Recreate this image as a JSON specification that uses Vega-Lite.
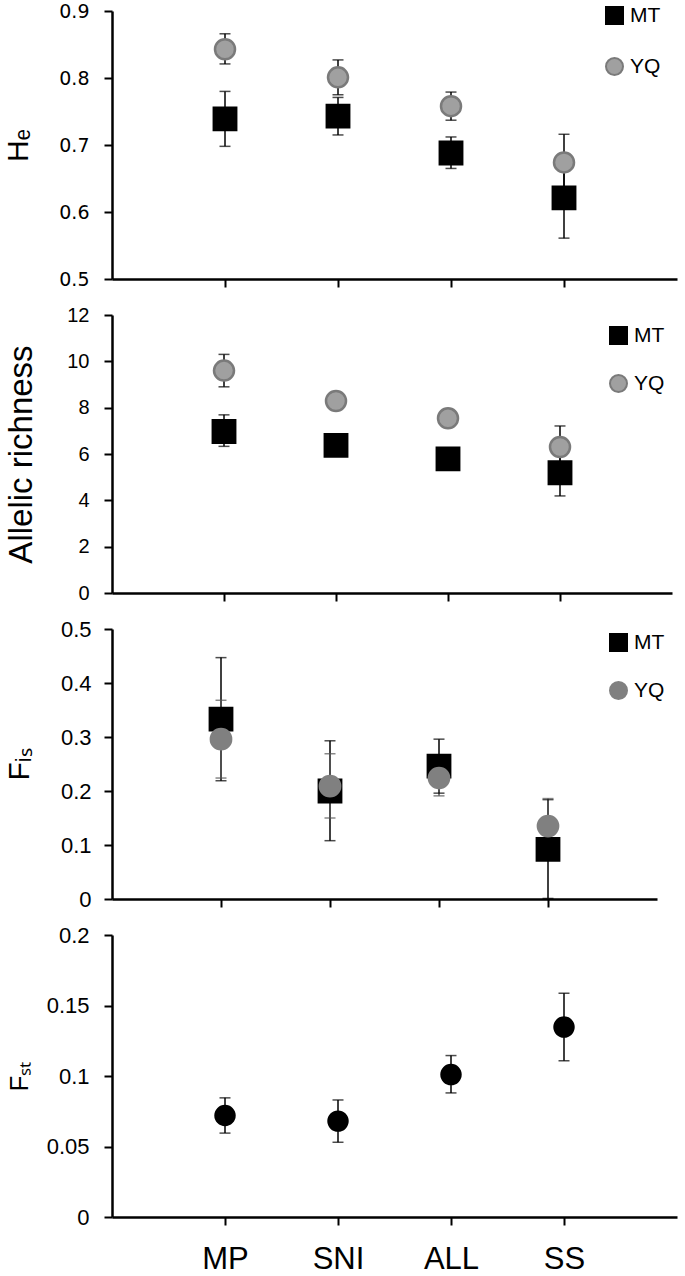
{
  "$schema": "https://vega.github.io/schema/vega-lite/v6.json",
  "background": "white",
  "padding": {"left": 3, "top": 2, "right": 5, "bottom": 0},
  "config": {
    "view": {"stroke": null},
    "axis": {"grid": false, "domainColor": "black", "domainWidth": 2.5, "tickColor": "black", "tickWidth": 2, "tickSize": 8, "labelColor": "black", "titleColor": "black", "titleFontWeight": "normal", "titleFont": "Liberation Sans", "labelFont": "Liberation Sans", "labelPadding": 15},
    "legend": {"labelColor": "black"}
  },
  "datasets": {
    "hie": [
      {"site": "MP", "pop": "MT", "mean": 0.739, "lo": 0.698, "hi": 0.780},
      {"site": "SNI", "pop": "MT", "mean": 0.743, "lo": 0.715, "hi": 0.771},
      {"site": "ALL", "pop": "MT", "mean": 0.688, "lo": 0.665, "hi": 0.712},
      {"site": "SS", "pop": "MT", "mean": 0.621, "lo": 0.561, "hi": 0.681},
      {"site": "MP", "pop": "YQ", "mean": 0.843, "lo": 0.821, "hi": 0.866},
      {"site": "SNI", "pop": "YQ", "mean": 0.801, "lo": 0.775, "hi": 0.827},
      {"site": "ALL", "pop": "YQ", "mean": 0.758, "lo": 0.737, "hi": 0.779},
      {"site": "SS", "pop": "YQ", "mean": 0.674, "lo": 0.632, "hi": 0.716}
    ],
    "ar": [
      {"site": "MP", "pop": "MT", "mean": 6.97, "lo": 6.33, "hi": 7.69},
      {"site": "SNI", "pop": "MT", "mean": 6.37, "lo": 6.0, "hi": 6.75},
      {"site": "ALL", "pop": "MT", "mean": 5.79, "lo": 5.5, "hi": 6.08},
      {"site": "SS", "pop": "MT", "mean": 5.19, "lo": 4.19, "hi": 6.19},
      {"site": "MP", "pop": "YQ", "mean": 9.6, "lo": 8.9, "hi": 10.3},
      {"site": "SNI", "pop": "YQ", "mean": 8.29, "lo": 8.0, "hi": 8.58},
      {"site": "ALL", "pop": "YQ", "mean": 7.54, "lo": 7.3, "hi": 7.78},
      {"site": "SS", "pop": "YQ", "mean": 6.3, "lo": 5.4, "hi": 7.21}
    ],
    "fis": [
      {"site": "MP", "pop": "MT", "mean": 0.333, "lo": 0.219, "hi": 0.447},
      {"site": "SNI", "pop": "MT", "mean": 0.200, "lo": 0.108, "hi": 0.293},
      {"site": "ALL", "pop": "MT", "mean": 0.246, "lo": 0.196, "hi": 0.296},
      {"site": "SS", "pop": "MT", "mean": 0.092, "lo": 0.001, "hi": 0.184},
      {"site": "MP", "pop": "YQ", "mean": 0.296, "lo": 0.224, "hi": 0.368},
      {"site": "SNI", "pop": "YQ", "mean": 0.209, "lo": 0.150, "hi": 0.269},
      {"site": "ALL", "pop": "YQ", "mean": 0.224, "lo": 0.191, "hi": 0.257},
      {"site": "SS", "pop": "YQ", "mean": 0.135, "lo": 0.085, "hi": 0.186}
    ],
    "fst": [
      {"site": "MP", "mean": 0.072, "lo": 0.0595, "hi": 0.0845},
      {"site": "SNI", "mean": 0.068, "lo": 0.053, "hi": 0.083},
      {"site": "ALL", "mean": 0.101, "lo": 0.088, "hi": 0.1145},
      {"site": "SS", "mean": 0.1347, "lo": 0.1108, "hi": 0.1587}
    ]
  },
  "bounds": "flush",
  "spacing": 36,
  "resolve": {"scale": {"x": "independent", "y": "independent", "fill": "independent", "stroke": "independent", "shape": "independent", "color": "independent", "size": "independent"}, "legend": {"fill": "independent", "stroke": "independent", "shape": "independent"}},
  "vconcat": [
    {
      "width": 565, "height": 268,
      "data": {"name": "hie"},
      "layer": [
        {"mark": {"type": "rule", "strokeWidth": 1.5},
         "encoding": {
           "x": {"field": "site", "type": "nominal", "sort": ["MP", "SNI", "ALL", "SS"], "scale": {"type": "point", "padding": 1}, "axis": {"labels": false, "title": null}},
           "y": {"field": "lo", "type": "quantitative", "title": "Hₑ", "scale": {"domain": [0.5, 0.9], "zero": false, "nice": false}, "axis": {"values": [0.5, 0.6, 0.7, 0.8, 0.9], "format": "~g", "labelFont": "DejaVu Sans", "labelFontSize": 19, "titleFontSize": 30, "titlePadding": 25}},
           "y2": {"field": "hi"},
           "color": {"value": "black"}}},
        {"mark": {"type": "tick", "thickness": 1.5, "size": 11, "color": "black"},
         "encoding": {"x": {"field": "site", "type": "nominal", "sort": ["MP", "SNI", "ALL", "SS"]}, "y": {"field": "lo", "type": "quantitative", "title": "Hₑ"}}},
        {"mark": {"type": "tick", "thickness": 1.5, "size": 11, "color": "black"},
         "encoding": {"x": {"field": "site", "type": "nominal", "sort": ["MP", "SNI", "ALL", "SS"]}, "y": {"field": "hi", "type": "quantitative", "title": "Hₑ"}}},
        {"mark": {"type": "point", "filled": true, "opacity": 1, "strokeWidth": 2.5},
         "encoding": {
           "x": {"field": "site", "type": "nominal", "sort": ["MP", "SNI", "ALL", "SS"]},
           "y": {"field": "mean", "type": "quantitative", "title": "Hₑ"},
           "size": {"condition": {"test": "datum.pop === 'YQ'", "value": 400}, "value": 500},
           "shape": {"field": "pop", "type": "nominal", "scale": {"domain": ["MT", "YQ"], "range": ["square", "circle"]}, "legend": {"title": null, "orient": "none", "legendX": 492, "legendY": -6, "rowPadding": 26, "labelFontSize": 21, "labelFont": "Liberation Sans", "symbolSize": 289, "labelOffset": 5, "symbolStrokeWidth": 2}},
           "fill": {"field": "pop", "type": "nominal", "scale": {"domain": ["MT", "YQ"], "range": ["black", "#a0a0a0"]}, "legend": {"title": null, "orient": "none", "legendX": 492, "legendY": -6, "rowPadding": 26, "labelFontSize": 21, "labelFont": "Liberation Sans", "symbolSize": 289, "labelOffset": 5, "symbolStrokeWidth": 2}},
           "stroke": {"field": "pop", "type": "nominal", "scale": {"domain": ["MT", "YQ"], "range": ["black", "#7a7a7a"]}, "legend": {"title": null, "orient": "none", "legendX": 492, "legendY": -6, "rowPadding": 26, "labelFontSize": 21, "labelFont": "Liberation Sans", "symbolSize": 289, "labelOffset": 5, "symbolStrokeWidth": 2}}
         }}
      ]
    },
    {
      "width": 560, "height": 278,
      "data": {"name": "ar"},
      "layer": [
        {"mark": {"type": "rule", "strokeWidth": 1.5},
         "encoding": {
           "x": {"field": "site", "type": "nominal", "sort": ["MP", "SNI", "ALL", "SS"], "scale": {"type": "point", "padding": 1}, "axis": {"labels": false, "title": null}},
           "y": {"field": "lo", "type": "quantitative", "title": "Allelic richness", "scale": {"domain": [0, 12], "nice": false}, "axis": {"values": [0, 2, 4, 6, 8, 10, 12], "format": "~g", "labelFontSize": 20, "titleFontSize": 33, "titlePadding": 28}},
           "y2": {"field": "hi"},
           "color": {"value": "black"}}},
        {"mark": {"type": "tick", "thickness": 1.5, "size": 11, "color": "black"},
         "encoding": {"x": {"field": "site", "type": "nominal", "sort": ["MP", "SNI", "ALL", "SS"]}, "y": {"field": "lo", "type": "quantitative", "title": "Allelic richness"}}},
        {"mark": {"type": "tick", "thickness": 1.5, "size": 11, "color": "black"},
         "encoding": {"x": {"field": "site", "type": "nominal", "sort": ["MP", "SNI", "ALL", "SS"]}, "y": {"field": "hi", "type": "quantitative", "title": "Allelic richness"}}},
        {"mark": {"type": "point", "filled": true, "opacity": 1, "strokeWidth": 2.5},
         "encoding": {
           "x": {"field": "site", "type": "nominal", "sort": ["MP", "SNI", "ALL", "SS"]},
           "y": {"field": "mean", "type": "quantitative", "title": "Allelic richness"},
           "size": {"condition": {"test": "datum.pop === 'YQ'", "value": 400}, "value": 500},
           "shape": {"field": "pop", "type": "nominal", "scale": {"domain": ["MT", "YQ"], "range": ["square", "circle"]}, "legend": {"title": null, "orient": "none", "legendX": 496, "legendY": 10, "rowPadding": 23, "labelFontSize": 21, "labelFont": "Liberation Sans", "symbolSize": 289, "labelOffset": 5, "symbolStrokeWidth": 2}},
           "fill": {"field": "pop", "type": "nominal", "scale": {"domain": ["MT", "YQ"], "range": ["black", "#a0a0a0"]}, "legend": {"title": null, "orient": "none", "legendX": 496, "legendY": 10, "rowPadding": 23, "labelFontSize": 21, "labelFont": "Liberation Sans", "symbolSize": 289, "labelOffset": 5, "symbolStrokeWidth": 2}},
           "stroke": {"field": "pop", "type": "nominal", "scale": {"domain": ["MT", "YQ"], "range": ["black", "#7a7a7a"]}, "legend": {"title": null, "orient": "none", "legendX": 496, "legendY": 10, "rowPadding": 23, "labelFontSize": 21, "labelFont": "Liberation Sans", "symbolSize": 289, "labelOffset": 5, "symbolStrokeWidth": 2}}
         }}
      ]
    },
    {
      "width": 545, "height": 270,
      "data": {"name": "fis"},
      "layer": [
        {"mark": {"type": "rule", "strokeWidth": 1.5},
         "encoding": {
           "x": {"field": "site", "type": "nominal", "sort": ["MP", "SNI", "ALL", "SS"], "scale": {"type": "point", "padding": 1}, "axis": {"labels": false, "title": null}},
           "y": {"field": "lo", "type": "quantitative", "title": "Fᵢₛ", "scale": {"domain": [0, 0.5], "nice": false}, "axis": {"values": [0, 0.1, 0.2, 0.3, 0.4, 0.5], "format": "~g", "labelFontSize": 22, "labelPadding": 13, "titleFontSize": 30, "titlePadding": 26}},
           "y2": {"field": "hi"},
           "color": {"condition": {"test": "datum.pop === 'YQ'", "value": "#555555"}, "value": "black"}}},
        {"mark": {"type": "tick", "thickness": 1.5, "size": 11},
         "encoding": {"x": {"field": "site", "type": "nominal", "sort": ["MP", "SNI", "ALL", "SS"]}, "y": {"field": "lo", "type": "quantitative", "title": "Fᵢₛ"}, "color": {"condition": {"test": "datum.pop === 'YQ'", "value": "#555555"}, "value": "black"}}},
        {"mark": {"type": "tick", "thickness": 1.5, "size": 11},
         "encoding": {"x": {"field": "site", "type": "nominal", "sort": ["MP", "SNI", "ALL", "SS"]}, "y": {"field": "hi", "type": "quantitative", "title": "Fᵢₛ"}, "color": {"condition": {"test": "datum.pop === 'YQ'", "value": "#555555"}, "value": "black"}}},
        {"mark": {"type": "point", "filled": true, "opacity": 1, "strokeWidth": 2},
         "encoding": {
           "x": {"field": "site", "type": "nominal", "sort": ["MP", "SNI", "ALL", "SS"]},
           "y": {"field": "mean", "type": "quantitative", "title": "Fᵢₛ"},
           "size": {"condition": {"test": "datum.pop === 'YQ'", "value": 430}, "value": 520},
           "shape": {"field": "pop", "type": "nominal", "scale": {"domain": ["MT", "YQ"], "range": ["square", "circle"]}, "legend": {"title": null, "orient": "none", "legendX": 496, "legendY": 3, "rowPadding": 23, "labelFontSize": 21, "labelFont": "Liberation Sans", "symbolSize": 289, "labelOffset": 5, "symbolStrokeWidth": 2}},
           "fill": {"field": "pop", "type": "nominal", "scale": {"domain": ["MT", "YQ"], "range": ["black", "#808080"]}, "legend": {"title": null, "orient": "none", "legendX": 496, "legendY": 3, "rowPadding": 23, "labelFontSize": 21, "labelFont": "Liberation Sans", "symbolSize": 289, "labelOffset": 5, "symbolStrokeWidth": 2}},
           "stroke": {"field": "pop", "type": "nominal", "scale": {"domain": ["MT", "YQ"], "range": ["black", "#808080"]}, "legend": {"title": null, "orient": "none", "legendX": 496, "legendY": 3, "rowPadding": 23, "labelFontSize": 21, "labelFont": "Liberation Sans", "symbolSize": 289, "labelOffset": 5, "symbolStrokeWidth": 2}}
         }}
      ]
    },
    {
      "width": 565, "height": 282,
      "data": {"name": "fst"},
      "layer": [
        {"mark": {"type": "rule", "strokeWidth": 1.5, "color": "black"},
         "encoding": {
           "x": {"field": "site", "type": "nominal", "sort": ["MP", "SNI", "ALL", "SS"], "scale": {"type": "point", "padding": 1}, "axis": {"title": null, "labelFontSize": 31, "labelFont": "Liberation Sans", "labelAngle": 0, "labelPadding": 19}},
           "y": {"field": "lo", "type": "quantitative", "title": "Fₛₜ", "scale": {"domain": [0, 0.2], "nice": false}, "axis": {"values": [0, 0.05, 0.1, 0.15, 0.2], "format": "~g", "labelFontSize": 22, "titleFontSize": 26, "titlePadding": 14}},
           "y2": {"field": "hi"}}},
        {"mark": {"type": "tick", "thickness": 1.5, "size": 11, "color": "black"},
         "encoding": {"x": {"field": "site", "type": "nominal", "sort": ["MP", "SNI", "ALL", "SS"]}, "y": {"field": "lo", "type": "quantitative", "title": "Fₛₜ"}}},
        {"mark": {"type": "tick", "thickness": 1.5, "size": 11, "color": "black"},
         "encoding": {"x": {"field": "site", "type": "nominal", "sort": ["MP", "SNI", "ALL", "SS"]}, "y": {"field": "hi", "type": "quantitative", "title": "Fₛₜ"}}},
        {"mark": {"type": "point", "filled": true, "opacity": 1, "color": "black", "size": 460, "shape": "circle"},
         "encoding": {
           "x": {"field": "site", "type": "nominal", "sort": ["MP", "SNI", "ALL", "SS"]},
           "y": {"field": "mean", "type": "quantitative", "title": "Fₛₜ"}
         }}
      ]
    }
  ]
}
